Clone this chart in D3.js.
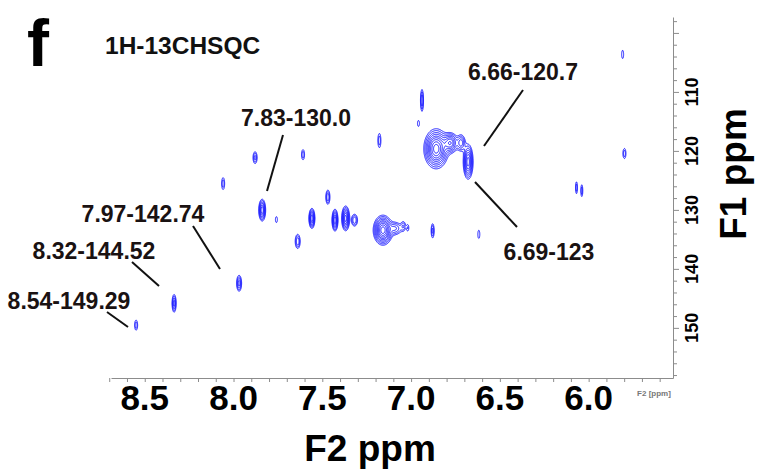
<!doctype html>
<meta charset="utf-8">
<title>1H-13C HSQC</title>
<script src="https://cdnjs.cloudflare.com/ajax/libs/d3/7.8.5/d3.min.js"></script>
<style>
  body { margin: 0; background: #fff; }
  svg text { font-family: "Liberation Sans", Arial, sans-serif; font-weight: bold; }
</style>
<svg id="hsqc" width="759" height="476"></svg>
<script>
  // cross peaks: [F2 ppm, F1 ppm, width ppm, height ppm, relative intensity]
  const peaks = [
    [8.55, 149.5, 0.017, 1.7, 0.2],
    [8.336, 145.8, 0.023, 3.0, 0.35],
    [7.97, 142.4, 0.028, 2.7, 0.35],
    [8.06, 125.5, 0.017, 2.0, 0.2],
    [7.88, 121.1, 0.023, 2.0, 0.25],
    [7.61, 120.6, 0.017, 1.7, 0.2],
    [7.84, 130.0, 0.039, 3.7, 0.6],
    [7.76, 131.6, 0.011, 1.0, 0.15],
    [7.47, 127.8, 0.023, 2.4, 0.3],
    [7.64, 135.3, 0.028, 2.4, 0.3],
    [7.56, 131.4, 0.034, 3.4, 0.6],
    [7.43, 131.7, 0.034, 3.7, 0.6],
    [7.37, 131.4, 0.045, 4.2, 0.7],
    [7.32, 131.7, 0.034, 2.0, 0.3],
    [7.16, 133.4, 0.11, 5.1, 1.0],
    [7.09, 133.1, 0.068, 2.0, 0.3],
    [7.045, 132.7, 0.023, 1.4, 0.2],
    [7.02, 133.0, 0.011, 1.0, 0.15],
    [6.88, 133.5, 0.017, 2.4, 0.25],
    [6.62, 134.1, 0.011, 1.4, 0.15],
    [6.94, 111.4, 0.017, 3.7, 0.3],
    [6.96, 115.3, 0.011, 1.0, 0.15],
    [7.18, 118.2, 0.017, 2.4, 0.2],
    [6.86, 119.6, 0.14, 6.8, 1.0],
    [6.78, 118.6, 0.085, 3.4, 0.6],
    [6.72, 118.6, 0.045, 2.7, 0.35],
    [6.68, 121.8, 0.056, 5.9, 0.7],
    [5.81, 103.6, 0.011, 1.4, 0.15],
    [5.80, 120.4, 0.017, 1.7, 0.2],
    [6.07, 126.2, 0.011, 2.0, 0.2],
    [6.04, 126.7, 0.011, 2.0, 0.2],
  ]
  const contourLevels = [0.1, 0.15, 0.22, 0.3, 0.4, 0.5, 0.62, 0.76, 0.9]

  const f2Labels = [8.5, 8.0, 7.5, 7.0, 6.5, 6.0]
  const f1Labels = [110, 120, 130, 140, 150]
  const f2Minor = d3.range(87, 55, -1).map((d) => d / 10)
  const f1Minor = d3.range(98, 159, 2)

  const annotations = ['7.83-130.0', '6.66-120.7', '6.69-123', '7.97-142.74', '8.32-144.52', '8.54-149.29']
  // text centre / baseline and leader line, in pixels
  const annotationLayout = [
    { tx: 296, ty: 126, line: [283, 135, 267, 191] },
    { tx: 523, ty: 80, line: [523, 90, 484, 146] },
    { tx: 549, ty: 260, line: [475, 182, 517, 227] },
    { tx: 143, ty: 222, line: [193, 226, 220, 269] },
    { tx: 94, ty: 259, line: [132, 262, 159, 286] },
    { tx: 69, ty: 309, line: [107, 312, 128, 327] },
  ]

  const svg = d3.select('#hsqc')
  const plot = { left: 111, right: 673, top: 17, bottom: 378 }
  const axisColor = '#8c8c8c'
  const peakColor = '#1616ff'

  const x = d3.scaleLinear().domain([8.69, 5.525]).range([plot.left, plot.right])
  const y = d3.scaleLinear().domain([97.3, 158.5]).range([plot.top, plot.bottom])

  // 用高斯峰叠加出强度场，再用 d3.contours 画等高线
  function drawContours() {
    const res = 0.5
    const nx = Math.ceil((plot.right - plot.left) / res)
    const ny = Math.ceil((plot.bottom - plot.top) / res)
    const grid = new Float64Array(nx * ny)

    peaks.forEach(([f2, f1, w, h, a]) => {
      const k = Math.sqrt(2 * Math.log(a / contourLevels[0]))
      const cx = (x(f2) - plot.left) / res
      const cy = (y(f1) - plot.top) / res
      const sx = Math.abs(x(f2 + w / 2) - x(f2)) / k / res
      const sy = Math.abs(y(f1 + h / 2) - y(f1)) / k / res
      const i0 = Math.max(0, Math.floor(cx - 4 * sx)), i1 = Math.min(nx - 1, Math.ceil(cx + 4 * sx))
      const j0 = Math.max(0, Math.floor(cy - 4 * sy)), j1 = Math.min(ny - 1, Math.ceil(cy + 4 * sy))
      for (let j = j0; j <= j1; j++) {
        const dy = (j - cy) / sy
        for (let i = i0; i <= i1; i++) {
          const dx = (i - cx) / sx
          grid[i + j * nx] += a * Math.exp(-0.5 * (dx * dx + dy * dy))
        }
      }
    })

    const contours = d3.contours().size([nx, ny]).thresholds(contourLevels)(grid)
    const path = d3.geoPath(d3.geoIdentity().scale(res).translate([plot.left, plot.top]))

    svg.append('g')
      .selectAll('path')
      .data(contours)
      .join('path')
      .attr('d', path)
      .attr('fill', 'none')
      .attr('stroke', peakColor)
      .attr('stroke-width', 1)
  }

  function drawAxes() {
    // F2 (bottom)
    const gx = svg.append('g').attr('transform', `translate(0,${plot.bottom})`)
    gx.call(d3.axisBottom(x).tickValues(f2Minor).tickSize(4).tickSizeOuter(0).tickFormat(''))
    gx.selectAll('path, line').attr('stroke', axisColor)

    svg.append('g')
      .selectAll('text')
      .data(f2Labels)
      .join('text')
      .attr('x', (d) => x(d))
      .attr('y', 410)
      .attr('text-anchor', 'middle')
      .attr('font-size', 35)
      .attr('fill', '#000')
      .text((d) => d.toFixed(1))

    // F1 (right)
    const gy = svg.append('g').attr('transform', `translate(${plot.right},0)`)
    gy.call(d3.axisRight(y).tickValues(f1Minor).tickSize(4).tickSizeOuter(0).tickFormat(''))
    gy.selectAll('path, line').attr('stroke', axisColor)
    gy.selectAll('.tick')
      .filter((d) => d % 10 === 0)
      .select('line')
      .attr('x2', 6)

    svg.append('g')
      .selectAll('text')
      .data(f1Labels)
      .join('text')
      .attr('transform', (d) => `translate(698,${y(d)}) rotate(-90)`)
      .attr('text-anchor', 'middle')
      .attr('font-size', 18)
      .attr('fill', '#000')
      .text((d) => d)

    svg.append('text')
      .attr('x', 654)
      .attr('y', 396)
      .attr('text-anchor', 'middle')
      .attr('font-size', 8)
      .attr('font-weight', 'normal')
      .attr('fill', '#777')
      .text('F2 [ppm]')

    svg.append('text')
      .attr('x', 370)
      .attr('y', 461)
      .attr('text-anchor', 'middle')
      .attr('font-size', 37)
      .attr('fill', '#000')
      .text('F2 ppm')

    svg.append('text')
      .attr('transform', `translate(746,174) rotate(-90)`)
      .attr('text-anchor', 'middle')
      .attr('font-size', 37)
      .attr('fill', '#000')
      .text('F1 ppm')
  }

  function drawAnnotations() {
    const g = svg.append('g')
    annotations.forEach((label, i) => {
      const { tx, ty, line } = annotationLayout[i]
      g.append('line')
        .attr('x1', line[0]).attr('y1', line[1])
        .attr('x2', line[2]).attr('y2', line[3])
        .attr('stroke', '#111')
        .attr('stroke-width', 2)
      g.append('text')
        .attr('x', tx)
        .attr('y', ty)
        .attr('text-anchor', 'middle')
        .attr('font-size', 23)
        .attr('fill', '#1a1212')
        .text(label)
    })

    svg.append('text')
      .attr('x', 27)
      .attr('y', 66)
      .attr('font-size', 66)
      .attr('fill', '#000')
      .text('f')

    svg.append('text')
      .attr('x', 105)
      .attr('y', 54)
      .attr('font-size', 24.5)
      .attr('fill', '#111')
      .text('1H-13CHSQC')
  }

  drawContours()
  drawAxes()
  drawAnnotations()
</script>
